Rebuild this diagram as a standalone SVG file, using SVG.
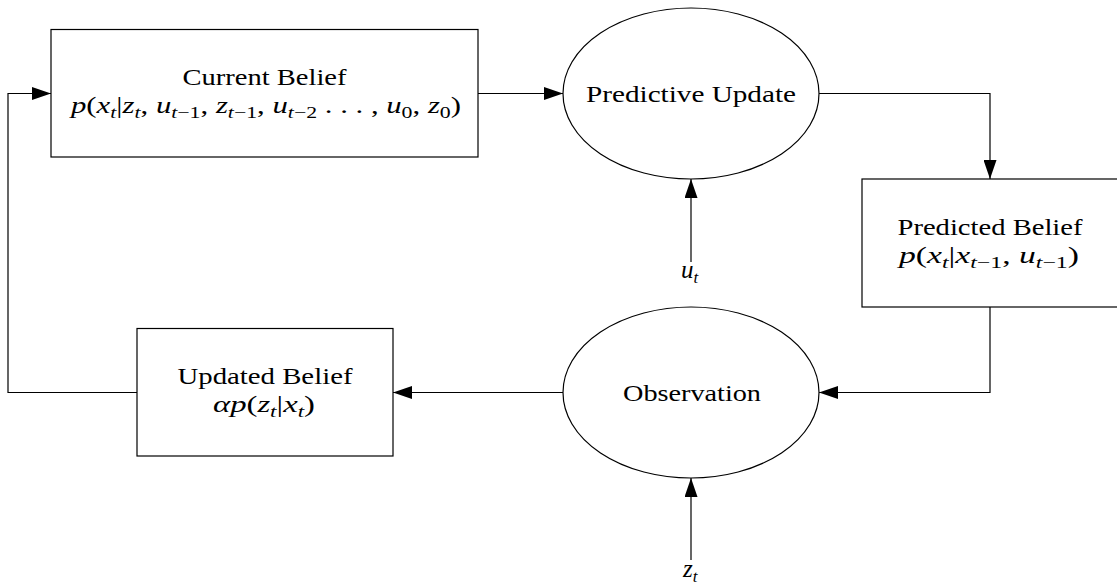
<svg xmlns="http://www.w3.org/2000/svg" width="1117" height="586" viewBox="0 0 1117 586">
<style>
.node { fill: #fff; stroke: #000; stroke-width: 1.2; }
.edge { fill: none; stroke: #000; stroke-width: 1.2; marker-end: url(#arr); }
.lbl { font-family: "Liberation Serif", "DejaVu Serif", serif; font-size: 24px; fill: #000; text-anchor: middle; }
.lab { font-family: "Liberation Serif", "DejaVu Serif", serif; font-size: 25px; fill: #000; }
.i { font-style: italic; }
.s { font-size: 17px; }
</style>
<defs>
<marker id="arr" markerUnits="userSpaceOnUse" markerWidth="19" markerHeight="13" refX="19" refY="6.5" orient="auto">
<path d="M0,0 L19,6.5 L0,13 Z" fill="#000"/>
</marker>
</defs>
<rect width="1117" height="586" fill="#fff"/>
<g id="connectors">
<path class="edge" d="M478,93.5 H563"/>
<path class="edge" d="M819,93.5 H990 V179"/>
<path class="edge" d="M691,262 V179"/>
<path class="edge" d="M990,307 V392.5 H819"/>
<path class="edge" d="M691,560 V478"/>
<path class="edge" d="M563,392.5 H393"/>
<path class="edge" d="M137,392.5 H8 V93.5 H51"/>
</g>
<g id="current-belief">
<rect class="node" x="51" y="29.5" width="427" height="127.5"/>
<text class="lbl" x="264.5" y="85" textLength="164" lengthAdjust="spacingAndGlyphs">Current Belief</text>
<text class="lbl" x="266" y="113" textLength="390" lengthAdjust="spacingAndGlyphs"><tspan class="i">p</tspan>(<tspan class="i">x</tspan><tspan class="s i" dy="5">t</tspan><tspan dy="-5">|</tspan><tspan class="i">z</tspan><tspan class="s i" dy="5">t</tspan><tspan dy="-5">, </tspan><tspan class="i">u</tspan><tspan class="s" dy="5"><tspan class="i">t</tspan>−1</tspan><tspan dy="-5">, </tspan><tspan class="i">z</tspan><tspan class="s" dy="5"><tspan class="i">t</tspan>−1</tspan><tspan dy="-5">, </tspan><tspan class="i">u</tspan><tspan class="s" dy="5"><tspan class="i">t</tspan>−2</tspan><tspan dy="-5"> . . . , </tspan><tspan class="i">u</tspan><tspan class="s" dy="5">0</tspan><tspan dy="-5">, </tspan><tspan class="i">z</tspan><tspan class="s" dy="5">0</tspan><tspan dy="-5">)</tspan></text>
</g>
<g id="predictive-update">
<ellipse class="node" cx="691" cy="93.5" rx="128" ry="85.5"/>
<text class="lbl" x="691" y="101.5" textLength="210" lengthAdjust="spacingAndGlyphs">Predictive Update</text>
</g>
<g id="predicted-belief">
<rect class="node" x="862" y="179" width="256" height="128"/>
<text class="lbl" x="990" y="235" textLength="185" lengthAdjust="spacingAndGlyphs">Predicted Belief</text>
<text class="lbl" x="989" y="263" textLength="180" lengthAdjust="spacingAndGlyphs"><tspan class="i">p</tspan>(<tspan class="i">x</tspan><tspan class="s i" dy="5">t</tspan><tspan dy="-5">|</tspan><tspan class="i">x</tspan><tspan class="s" dy="5"><tspan class="i">t</tspan>−1</tspan><tspan dy="-5">, </tspan><tspan class="i">u</tspan><tspan class="s" dy="5"><tspan class="i">t</tspan>−1</tspan><tspan dy="-5">)</tspan></text>
</g>
<g id="observation">
<ellipse class="node" cx="691" cy="392.5" rx="128" ry="85.5"/>
<text class="lbl" x="692" y="400.5" textLength="138" lengthAdjust="spacingAndGlyphs">Observation</text>
</g>
<g id="updated-belief">
<rect class="node" x="137" y="328.5" width="256" height="127.5"/>
<text class="lbl" x="265" y="384" textLength="175" lengthAdjust="spacingAndGlyphs">Updated Belief</text>
<text class="lbl" x="264" y="412" textLength="102" lengthAdjust="spacingAndGlyphs"><tspan class="i">αp</tspan>(<tspan class="i">z</tspan><tspan class="s i" dy="5">t</tspan><tspan dy="-5">|</tspan><tspan class="i">x</tspan><tspan class="s i" dy="5">t</tspan><tspan dy="-5">)</tspan></text>
</g>
<g id="input-u">
<text class="lab" x="681" y="278"><tspan class="i">u</tspan><tspan class="s i" dy="5">t</tspan></text>
</g>
<g id="input-z">
<text class="lab" x="683" y="577"><tspan class="i">z</tspan><tspan class="s i" dy="5">t</tspan></text>
</g>
</svg>
